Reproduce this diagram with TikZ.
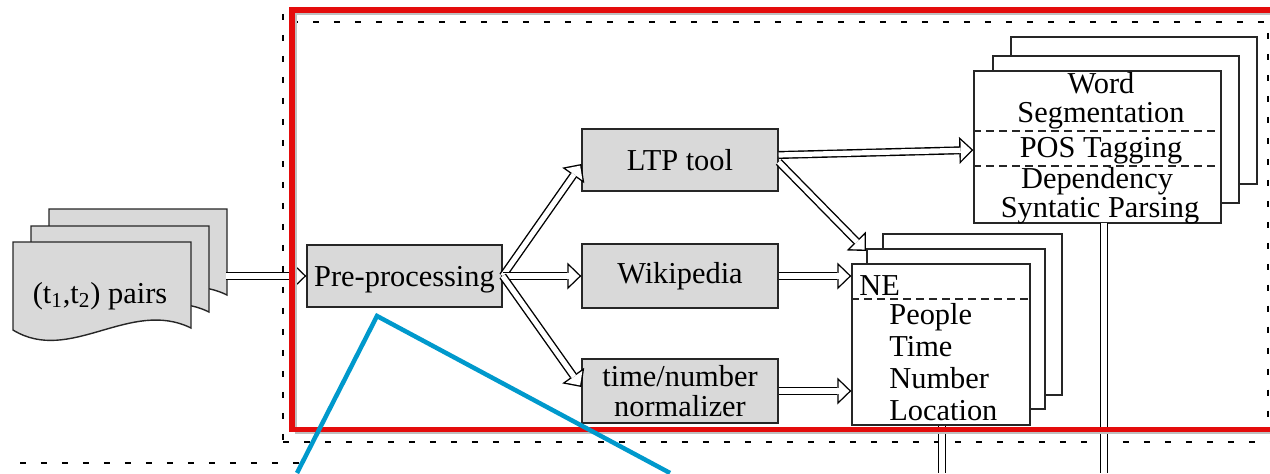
\documentclass[tikz,border=0pt]{standalone}
\usepackage{fontspec}
\setmainfont{Liberation Serif}
\usetikzlibrary{arrows.meta,calc}
\newdimen\pxu \pxu=0.02cm
\definecolor{boxgray}{RGB}{217,217,217}
\definecolor{framered}{RGB}{228,12,12}
\definecolor{zoomblue}{RGB}{0,153,204}
\begin{document}
\begin{tikzpicture}[x=0.02cm,y=-0.02cm, font=\fontsize{17.3}{17.5}\selectfont,
 graybox/.style={draw=black!85, line width=0.8pt, fill=boxgray, inner sep=0pt},
 whitebox/.style={draw=black!85, line width=0.8pt, fill=white, inner sep=0pt},
 backbox/.style={draw=black!85, line width=0.8pt, fill=white},
 sz/.style 2 args={minimum width=#1\pxu, minimum height=#2\pxu},
 hollowline/.style={preaction={draw=black, line width=0.16cm},
   draw=white, line width=0.104cm},
 hollowarrow/.style={preaction={draw=black, line width=0.16cm, shorten >=0pt,
     -{Triangle[length=0.28cm,width=0.54cm,line width=0pt]}},
   draw=white, line width=0.104cm, shorten >=0.040cm,
   -{Triangle[length=0.212cm,width=0.409cm,line width=0pt]}},
 sepline/.style={draw=black!85, dash pattern=on 0.16cm off 0.1cm, line width=0.7pt},
 frameline/.style={line width=0.055cm, dash pattern=on 0.12cm off 0.3cm},
 lbl/.style={anchor=base, inner sep=0pt},
 lblw/.style={anchor=base west, inner sep=0pt}]
\useasboundingbox (0,0) rectangle (1270,473);

% dashed frame
\draw[frameline] (283,14) -- (283,445);
\draw[frameline] (292,22) -- (1268,22) -- (1268,430);
\draw[frameline] (283,442) -- (1270,442);
\draw[frameline] (20,463) -- (300,463);

% document stack
\foreach \dx/\dy in {36/-33, 18/-16, 0/0} {
  \begin{scope}[shift={(\dx,\dy)}]
    \draw[draw=black!85, line width=0.8pt, fill=boxgray] (13,242) -- (191,242) -- (191,328)
      .. controls (130,298) and (70,365) .. (13,330) -- cycle;
  \end{scope}
}
\node (pairs) at (100,296) {(t\textsubscript{1},t\textsubscript{2}) pairs};
\coordinate (pairsR) at (226,276);

% gray boxes
\node[graybox, sz={195}{62}, text depth=0pt] (pre) at (404.5,276) {Pre-processing};
\node[graybox, sz={196}{62}] (ltp) at (680,160) {LTP tool};
\node[graybox, sz={196}{64}] (wiki) at (680,276) {Wikipedia};
\node[graybox, sz={196}{64}, align=center] (tn) at (680,391) {time/number\\normalizer};

% word segmentation stack
\draw[backbox] (1011,37) rectangle (1257,184);
\draw[backbox] (993,56) rectangle (1239,203);
\node[whitebox, sz={247}{152}] (ws) at (1097.5,147) {};
\draw[sepline] (ws.west |- 0,131) -- (ws.east |- 0,131);
\draw[sepline] (ws.west |- 0,166) -- (ws.east |- 0,166);
\node[lbl] (w1) at (1101,93) {Word};
\node[lbl] (w2) at (1101,122) {Segmentation};
\node[lbl] (w3) at (1101,157) {POS Tagging};
\node[lbl] (w4) at (1097,188) {Dependency};
\node[lbl] (w5) at (1100,217) {Syntatic Parsing};

% NE stack
\draw[backbox] (883,234) rectangle (1062,395);
\draw[backbox] (867,249) rectangle (1045,409);
\node[whitebox, sz={178}{161}] (ne) at (941,344.5) {};
\draw[sepline] (ne.west |- 0,299) -- (ne.east |- 0,299);
\node[lblw] (n0) at (859,295) {NE};
\node[lblw] (n1) at (889,324) {People};
\node[lblw] (n2) at (889,356) {Time};
\node[lblw] (n3) at (889,388) {Number};
\node[lblw] (n4) at (889,420) {Location};
\coordinate (neTip) at (866,251);
\coordinate (neDown) at (942,473);
\coordinate (wsUp) at (1104,223);
\coordinate (wsDown) at (1104,473);

% connectors
\draw[hollowarrow] (pairsR) -- (pre.west);
\draw[hollowarrow] (pre.east) -- ($(ltp.west)+(0,4)$);
\draw[hollowarrow] (pre.east) -- (wiki.west);
\draw[hollowarrow] (pre.east) -- ($(tn.west)+(0,-4)$);
\draw[hollowarrow] ($(ltp.east)+(0,-5)$) -- ($(ws.west)+(0,3)$);
\draw[hollowarrow] ($(ltp.east)+(0,2)$) -- (neTip);
\draw[hollowarrow] (wiki.east) -- (ne.west |- wiki.east);
\draw[hollowarrow] (tn.east) -- (ne.west |- tn.east);
\draw[hollowline] (ne.south -| neDown) -- (neDown);
\draw[hollowline] (wsUp) -- (wsDown);

% red frame
\draw[black!25, line width=0.05cm] (1270,433) -- (296,433) -- (296,14) -- (1270,14);
\draw[framered, line width=0.11cm] (1270,10) -- (292,10) -- (292,429.5) -- (1270,429.5);

% blue zoom lines
\draw[zoomblue, line width=0.09cm] (297,473) -- (377,316) -- (670,473);
\end{tikzpicture}
\end{document}
